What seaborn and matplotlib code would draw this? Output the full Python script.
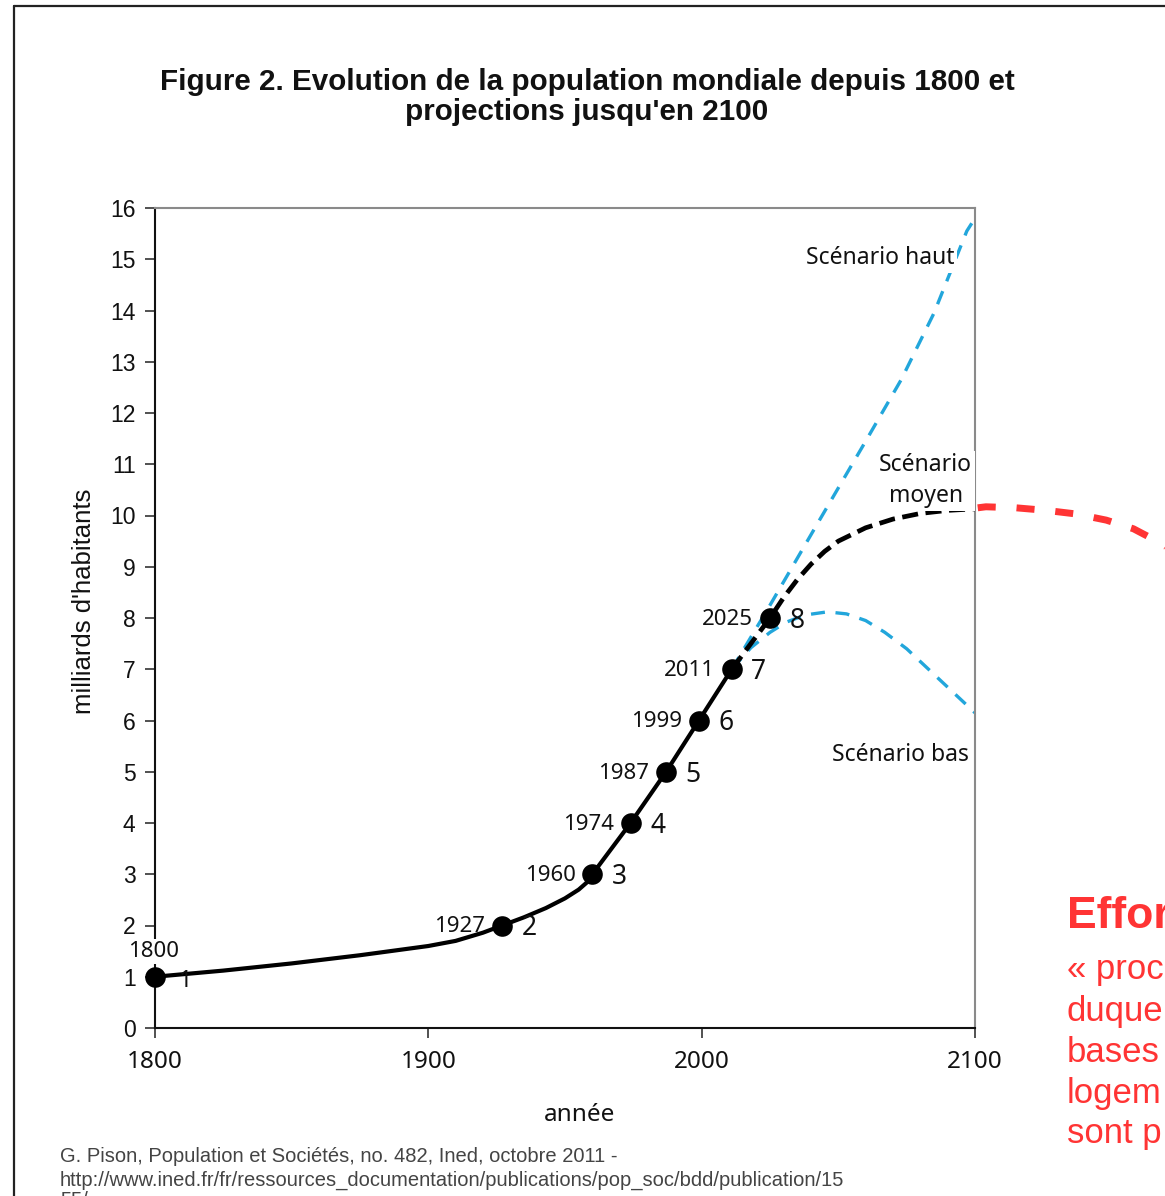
import numpy as np
import pandas as pd
import matplotlib
matplotlib.use("Agg")
import matplotlib.pyplot as plt
from matplotlib.lines import Line2D
import seaborn as sns

# ---------------- data ----------------
hist_years = [1800, 1825, 1850, 1875, 1900, 1910, 1920, 1927, 1935, 1943, 1950, 1955, 1958, 1960, 1974, 1987, 1999, 2011]
hist_pop = [1.0, 1.12, 1.26, 1.42, 1.6, 1.7, 1.86, 2.0, 2.16, 2.34, 2.53, 2.7, 2.84, 3.0, 4.0, 5.0, 6.0, 7.0]

mid_years = [2011, 2025, 2030, 2035, 2040, 2045, 2050, 2060, 2070, 2080, 2090, 2100]
mid_pop = [7.0, 8.0, 8.4, 8.75, 9.05, 9.3, 9.5, 9.76, 9.93, 10.04, 10.1, 10.13]

high_years = [2011, 2025, 2043, 2060, 2073, 2085, 2097, 2100]
high_pop = [7.0, 8.25, 9.9, 11.45, 12.65, 13.95, 15.55, 15.8]

low_years = [2011, 2018, 2025, 2031, 2038, 2046, 2053, 2060, 2067, 2075, 2084, 2092, 2100]
low_pop = [7.0, 7.42, 7.72, 7.92, 8.06, 8.12, 8.08, 7.95, 7.72, 7.4, 6.95, 6.55, 6.15]

red_years = [2101, 2104, 2115, 2126, 2137, 2148, 2158, 2168, 2175]
red_pop = [10.15, 10.17, 10.15, 10.1, 10.03, 9.91, 9.74, 9.46, 9.22]

milestone_years = [1800, 1927, 1960, 1974, 1987, 1999, 2011, 2025]
milestone_pop = [1, 2, 3, 4, 5, 6, 7, 8]
milestone_num = ["1", "2", "3", "4", "5", "6", "7", "8"]

x_ticks = [1800, 1900, 2000, 2100]
y_ticks = list(range(0, 17))

title = "Figure 2. Evolution de la population mondiale depuis 1800 et\nprojections jusqu'en 2100"
y_label = "milliards d'habitants"
x_label = "année"
source_lines = ["G. Pison, Population et Sociétés, no. 482, Ined, octobre 2011 -",
                "http://www.ined.fr/fr/ressources_documentation/publications/pop_soc/bdd/publication/15",
                "55/"]
red_title = "Effor"
red_lines = ["« proc", "duque", "bases", "logem", "sont p"]

# ---------------- style ----------------
sns.set_theme(style="ticks")
plt.rcParams["font.family"] = ["Liberation Sans", "DejaVu Sans"]

W, H = 1165, 1196
fig = plt.figure(figsize=(W / 100, H / 100), dpi=100)
fig.patch.set_facecolor("white")

ax_l, ax_r, ax_t, ax_b = 155, 975, 208, 1028
ax = fig.add_axes([ax_l / W, 1 - ax_b / H, (ax_r - ax_l) / W, (ax_b - ax_t) / H])
ax.set_facecolor("white")

BLUE = "#22a6db"
RED = "#ff3434"
LAB_FONT = ["Noto Sans", "DejaVu Sans"]

df_hist = pd.DataFrame({"year": hist_years, "pop": hist_pop})
df_mid = pd.DataFrame({"year": mid_years, "pop": mid_pop})
df_high = pd.DataFrame({"year": high_years, "pop": high_pop})
df_low = pd.DataFrame({"year": low_years, "pop": low_pop})
df_red = pd.DataFrame({"year": red_years, "pop": red_pop})
df_ms = pd.DataFrame({"year": milestone_years, "pop": milestone_pop, "num": milestone_num})

sns.lineplot(data=df_high, x="year", y="pop", ax=ax, color=BLUE, lw=2.4,
             linestyle=(0, (4.2, 3.2)), zorder=2)
sns.lineplot(data=df_low, x="year", y="pop", ax=ax, color=BLUE, lw=2.4,
             linestyle=(0, (4.2, 3.2)), zorder=2)
sns.lineplot(data=df_mid, x="year", y="pop", ax=ax, color="black", lw=3.4,
             linestyle=(0, (3.4, 1.6)), zorder=3)
sns.lineplot(data=df_hist, x="year", y="pop", ax=ax, color="black", lw=3.0, zorder=3)
sns.lineplot(data=df_red, x="year", y="pop", ax=ax, color=RED, lw=5.0,
             linestyle=(0, (2.6, 3.0)), zorder=3, clip_on=False)
sns.scatterplot(data=df_ms, x="year", y="pop", ax=ax, color="black", s=220,
                edgecolor="black", linewidth=0, zorder=5, clip_on=False)

# milestone labels
for yr, p, n in zip(milestone_years, milestone_pop, milestone_num):
    if yr == 1800:
        ax.annotate(str(yr), (yr, p), xytext=(-1, 18), textcoords="offset points",
                    ha="center", va="center", fontsize=16, family=LAB_FONT,
                    color="#111111", zorder=6, annotation_clip=False,
                    bbox=dict(boxstyle="square,pad=0.1", fc="white", ec="none"))
        ax.annotate(n, (yr, p), xytext=(22, -3), textcoords="offset points",
                    ha="center", va="center", fontsize=17, family=LAB_FONT,
                    color="#111111", zorder=6, annotation_clip=False)
    else:
        ax.annotate(str(yr), (yr, p), xytext=(-12, -1), textcoords="offset points",
                    ha="right", va="center", fontsize=16, family=LAB_FONT,
                    color="#111111", zorder=6)
        ax.annotate(n, (yr, p), xytext=(14, -2), textcoords="offset points",
                    ha="left", va="center", fontsize=19, family=LAB_FONT,
                    color="#111111", zorder=6)

# scenario labels
ax.text(2065.4, 15.02, "Scénario haut", ha="center", va="center", fontsize=16.5,
        family=LAB_FONT, color="#111111", zorder=4,
        bbox=dict(boxstyle="square,pad=0.1", fc="white", ec="none"))
ax.text(2082, 10.68, "Scénario\nmoyen", ha="center", va="center", fontsize=16.5,
        family=LAB_FONT, color="#111111", zorder=4, linespacing=1.42,
        clip_on=False,
        bbox=dict(boxstyle="square,pad=0.1", fc="white", ec="none"))
ax.text(2072.6, 5.33, "Scénario bas", ha="center", va="center", fontsize=16.5,
        family=LAB_FONT, color="#111111", zorder=4)

# axes formatting
ax.set_xlim(1800, 2100)
ax.set_ylim(0, 16)
ax.set_xticks(x_ticks)
ax.set_yticks(y_ticks)
ax.tick_params(axis="both", direction="out", length=7, width=1.2, color="#333333",
               labelsize=16.5, labelcolor="#111111")
ax.tick_params(axis="y", pad=7)
ax.tick_params(axis="x", pad=9)
for lab in ax.get_xticklabels():
    lab.set_family(LAB_FONT)
    lab.set_fontsize(17.5)
for side in ["top", "right"]:
    ax.spines[side].set_color("#8a8a8a")
    ax.spines[side].set_linewidth(1.5)
for side in ["left", "bottom"]:
    ax.spines[side].set_color("#111111")
    ax.spines[side].set_linewidth(1.5)

ax.set_xlabel(x_label, fontsize=17.5, family=LAB_FONT, color="#111111")
ax.xaxis.set_label_coords((580 - ax_l) / (ax_r - ax_l), -(1103 - ax_b) / (ax_b - ax_t))
ax.set_ylabel(y_label, fontsize=18.5, color="#111111")
ax.yaxis.set_label_coords(-(ax_l - 96) / (ax_r - ax_l), (ax_b - 601) / (ax_b - ax_t))

# title
fig.text(587 / W, 1 - 97 / H, title, ha="center", va="center", fontsize=21.3,
         fontweight="bold", color="#111111", linespacing=1.12)

# source
for i, line in enumerate(source_lines):
    fig.text(60 / W, 1 - (1157 + 23 * i + (-2 if i == 2 else 0)) / H, line,
             ha="left", va="center", fontsize=14.5, color="#444444",
             family=["Liberation Sans Narrow", "Liberation Sans", "DejaVu Sans"])

# red slide text
fig.text(1067 / W, 1 - 917 / H, red_title, ha="left", va="center", fontsize=32,
         fontweight="bold", color=RED)
for i, line in enumerate(red_lines):
    fig.text(1067 / W, 1 - (970 + 41 * i) / H, line, ha="left", va="center",
             fontsize=25, color=RED)

# slide frame (left and top edges)
fig.add_artist(Line2D([14 / W, 14 / W], [0, 1 - 6 / H], color="#222222", lw=1.6,
                      transform=fig.transFigure))
fig.add_artist(Line2D([14 / W, 1], [1 - 6 / H, 1 - 6 / H], color="#222222", lw=1.6,
                      transform=fig.transFigure))

fig.savefig("out.png", dpi=100, facecolor="white")
